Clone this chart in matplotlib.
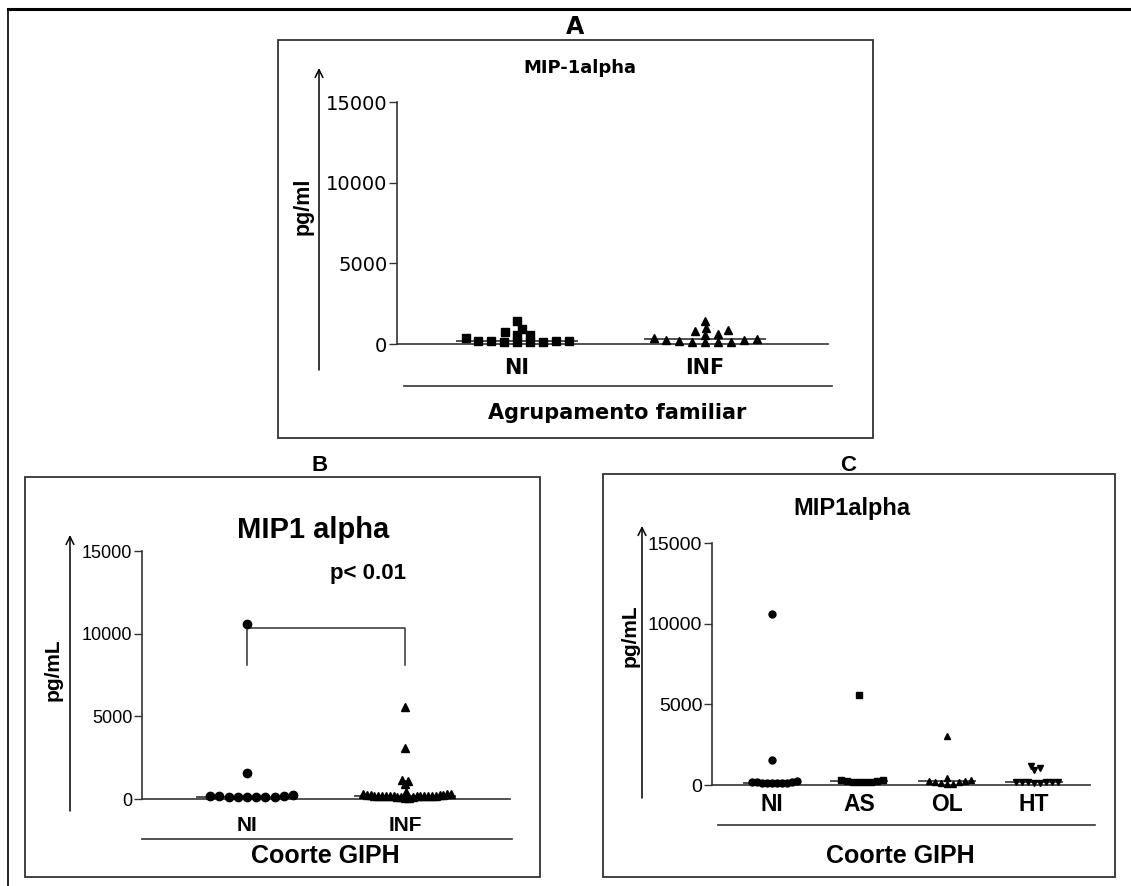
import numpy as np
import matplotlib
matplotlib.use("Agg")
import matplotlib.pyplot as plt
from matplotlib.patches import Rectangle

plt.rcParams["font.family"] = ["Liberation Sans", "DejaVu Sans"]
WIDE = ["DejaVu Sans", "Liberation Sans"]   # wider face used in panel A

# ---------------- data (pg/mL) ----------------
# Panel A: family clustering
a_groups = ["NI", "INF"]
a_ni = [351, 207, 145, 1426, 207, 558, 909, 145, 558, 145, 723, 145, 186, 207]
a_inf = [393, 248, 1447, 165, 868, 145, 600, 806, 145, 558, 1013, 103, 145, 248, 310]

# Panel C: GIPH cohort by clinical group
c_groups = ["NI", "AS", "OL", "HT"]
c_ni = [10600, 1570, 264, 163, 163, 102, 122, 122, 102, 122, 122, 163]
c_as = [5580, 210, 270, 330, 165, 210, 270, 330, 210]
c_ol = [3055, 165, 330, 165, 410, 270, 270, 125, 90, 60]
c_ht = [1060, 900, 1160, 150, 180, 160, 200, 170, 140, 190, 160]

# Panel B: GIPH cohort, non-infected vs infected (AS + OL + HT)
b_groups = ["NI", "INF"]
b_ni = c_ni
b_inf = c_as + c_ol + c_ht
b_pvalue = "p< 0.01"

y_ticks = [0, 5000, 10000, 15000]

# ---------------- figure ----------------
W, H = 1131, 886
fig = plt.figure(figsize=(W / 100, H / 100), dpi=100)

ov = fig.add_axes([0, 0, 1, 1])
ov.set_xlim(0, W)
ov.set_ylim(H, 0)
ov.axis("off")
ov.set_zorder(0)

LINE = "#333333"


def px_axes(x0, y_top, x1, y_zero):
    ax = fig.add_axes([x0 / W, 1 - y_zero / H, (x1 - x0) / W, (y_zero - y_top) / H])
    ax.set_zorder(2)
    ax.patch.set_alpha(0)
    return ax


def swarm(values, center, sx, sy, dx, dy, max_half):
    """Beeswarm x positions (data units); sx, sy are pixels per data unit.
    Points keep at least an elliptical gap (dx, dy) in pixels; the swarm is
    squeezed if it grows wider than max_half pixels on either side."""
    vals = np.asarray(values, float)
    order = np.argsort(vals, kind="stable")
    placed = []
    offs = np.zeros(len(vals))
    cands = [0.0]
    for k in range(1, 600):
        cands += [k * 0.5, -k * 0.5]
    for i in order:
        ypx = vals[i] * sy
        for c in cands:
            if all(((c - px) / dx) ** 2 + ((ypx - py) / dy) ** 2 >= 1 for px, py in placed):
                placed.append((c, ypx))
                offs[i] = c
                break
    widest = np.abs(offs).max() if len(offs) else 0
    if widest > max_half:
        offs *= max_half / widest
    return center + offs / sx


def panel(ax, x_axis, y_top, y_zero, x_end, centers_px, groups, series, markers,
          msize, gaps, max_half, half_w, tick_fs, lab_fs, lab_pad, family=None):
    n = len(groups)
    pos = np.arange(1, n + 1, dtype=float)
    sx = (centers_px[-1] - centers_px[0]) / (pos[-1] - pos[0])
    x_lo = pos[0] - (centers_px[0] - x_axis) / sx
    x_hi = pos[-1] + (x_end - centers_px[-1]) / sx
    ax.set_xlim(x_lo, x_hi)
    ax.set_ylim(0, 15000)
    sy = (y_zero - y_top) / 15000
    for p, vals, m in zip(pos, series, markers):
        xs = swarm(vals, p, sx, sy, gaps[0], gaps[1], max_half)
        ax.plot(xs, vals, linestyle="none", marker=m, ms=msize, color="black",
                mec="black", clip_on=False, zorder=3)
        ax.hlines(np.median(vals), p - half_w / sx, p + half_w / sx,
                  color=LINE, lw=1.2, zorder=2)
    for s in ["top", "right"]:
        ax.spines[s].set_visible(False)
    for s in ["left", "bottom"]:
        ax.spines[s].set_color(LINE)
        ax.spines[s].set_linewidth(1.2)
    ax.set_yticks(y_ticks)
    ax.set_yticklabels([str(t) for t in y_ticks])
    ax.tick_params(axis="y", length=6, width=1, color=LINE, labelsize=tick_fs, pad=1)
    ax.set_xticks(pos)
    ax.set_xticklabels(groups, fontweight="bold", fontsize=lab_fs)
    ax.tick_params(axis="x", length=0, pad=lab_pad)
    if family is not None:
        for lab in ax.get_xticklabels() + ax.get_yticklabels():
            lab.set_family(family)
    return ax


def box(x0, y0, x1, y1):
    ov.add_patch(Rectangle((x0, y0), x1 - x0, y1 - y0, fill=False, ec=LINE, lw=1.3))


def up_arrow(x, y_top, y_bot):
    ov.annotate("", xy=(x, y_top), xytext=(x, y_bot),
                arrowprops=dict(arrowstyle="->", lw=1.1, color="black",
                                shrinkA=0, shrinkB=0, mutation_scale=14))


# outer frame (top and left edges)
ov.plot([8, W], [9, 9], color="black", lw=2.2)
ov.plot([8, 8], [9, H], color="black", lw=1.2)

# ---------------- Panel A ----------------
box(278, 40, 873, 438)
ov.text(575, 27, "A", ha="center", va="center", fontsize=17, fontweight="bold",
        family=WIDE)
ov.text(580, 68, "MIP-1alpha", ha="center", va="center", fontsize=13,
        fontweight="bold", family=WIDE)
axA = px_axes(397, 102, 828, 344)
panel(axA, 397, 102, 344, 828, [517, 705], a_groups, [a_ni, a_inf], ["s", "^"],
      msize=5.5, gaps=(13, 6), max_half=53, half_w=61, tick_fs=14, lab_fs=15,
      lab_pad=10, family=WIDE)
up_arrow(319, 68, 370)
ov.text(303, 206, "pg/ml", rotation=90, ha="center", va="center",
        fontsize=15.5, fontweight="bold")
ov.plot([404, 832], [386, 386], color=LINE, lw=1.2)
ov.text(617, 413, "Agrupamento familiar", ha="center", va="center",
        fontsize=15, fontweight="bold", family=WIDE)

# ---------------- Panel B ----------------
box(25, 477, 540, 877)
ov.text(320, 465, "B", ha="center", va="center", fontsize=16, fontweight="bold")
ov.text(313, 530, "MIP1 alpha", ha="center", va="center", fontsize=21, fontweight="bold")
ov.text(368, 573, b_pvalue, ha="center", va="center", fontsize=16, fontweight="bold")
axB = px_axes(142, 551, 510, 799)
panel(axB, 142, 551, 799, 510, [247, 405], b_groups, [b_ni, b_inf], ["o", "^"],
      msize=6, gaps=(11, 6), max_half=46, half_w=51, tick_fs=13, lab_fs=15,
      lab_pad=12)
# significance bracket between the two groups
br_top, br_bot = 10350, 8100
axB.plot([1, 1, 2, 2], [br_bot, br_top, br_top, br_bot], color=LINE, lw=1.1, zorder=1)
up_arrow(70, 535, 811)
ov.text(53, 670, "pg/mL", rotation=90, ha="center", va="center",
        fontsize=15, fontweight="bold")
ov.plot([142, 512], [839, 839], color=LINE, lw=1.2)
ov.text(325, 856, "Coorte GIPH", ha="center", va="center", fontsize=18, fontweight="bold")

# ---------------- Panel C ----------------
box(603, 474, 1115, 877)
ov.text(848, 465, "C", ha="center", va="center", fontsize=16, fontweight="bold")
ov.text(852, 509, "MIP1alpha", ha="center", va="center", fontsize=17, fontweight="bold")
axC = px_axes(712, 543, 1090, 785)
panel(axC, 712, 543, 785, 1090, [772, 859, 948, 1034], c_groups,
      [c_ni, c_as, c_ol, c_ht], ["o", "s", "^", "v"],
      msize=5, gaps=(6, 5), max_half=25, half_w=29, tick_fs=14, lab_fs=16.5,
      lab_pad=6)
up_arrow(642, 526, 798)
ov.text(630, 636, "pg/mL", rotation=90, ha="center", va="center",
        fontsize=15, fontweight="bold")
ov.plot([718, 1095], [825, 825], color=LINE, lw=1.2)
ov.text(900, 856, "Coorte GIPH", ha="center", va="center", fontsize=18, fontweight="bold")

fig.savefig("out.png", dpi=100)
